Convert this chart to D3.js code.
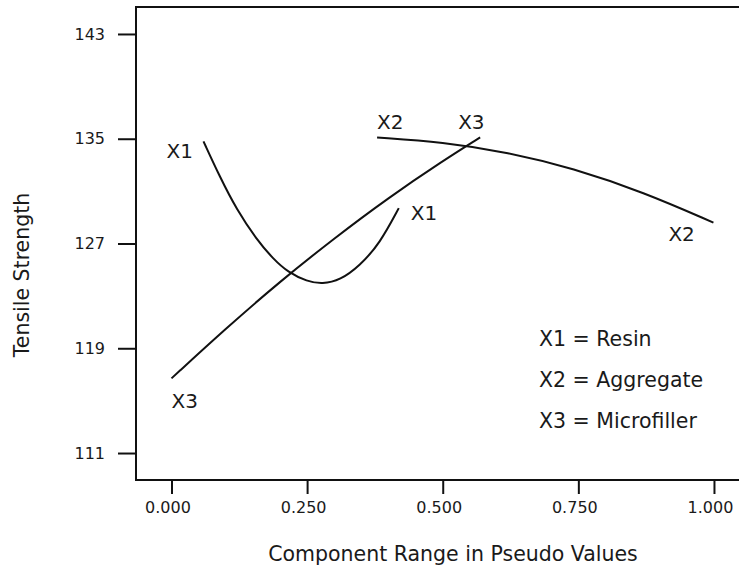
<!DOCTYPE html>
<html>
<head>
<meta charset="utf-8">
<script src="https://cdn.jsdelivr.net/npm/d3@7"></script>
<style>
  body { margin: 0; background: #fff; }
  text { font-family: "DejaVu Sans", Verdana, sans-serif; fill: #1a1a1a; }
</style>
</head>
<body>
<svg class="chart"></svg>
<script>
var width = 739,
    height = 588;

// values
var xTicks = [0, 0.25, 0.5, 0.75, 1.0];
var yTicks = [111, 119, 127, 135, 143];

var x1Resin = [
  [0.059, 134.8], [0.089, 132.1], [0.120, 129.6], [0.157, 127.3], [0.188, 125.8],
  [0.215, 124.8], [0.250, 124.1], [0.278, 123.9], [0.311, 124.2], [0.347, 125.3],
  [0.384, 127.0], [0.419, 129.7]
];
var x2Aggregate = [
  [0.379, 135.1], [0.500, 134.75], [0.620, 133.97], [0.740, 132.75], [0.870, 130.92],
  [0.999, 128.6]
];
var x3Microfiller = [
  [0.000, 116.7], [0.100, 120.5], [0.200, 124.1], [0.300, 127.4], [0.400, 130.5],
  [0.500, 133.3], [0.569, 135.1]
];

var curveLabels = [
  { text: "X1", at: [0.059, 134.8], dx: -37, dy: 17 },
  { text: "X1", at: [0.419, 129.7], dx: 12, dy: 12 },
  { text: "X2", at: [0.379, 135.1], dx: 0, dy: -8 },
  { text: "X3", at: [0.569, 135.1], dx: -22, dy: -8 },
  { text: "X2", at: [0.999, 128.6], dx: -45, dy: 18 },
  { text: "X3", at: [0.000, 116.7], dx: 0, dy: 30 }
];

var legendItems = ["X1 = Resin", "X2 = Aggregate", "X3 = Microfiller"];

var svg = d3.select(".chart")
    .attr("width", width)
    .attr("height", height);

var x = d3.scaleLinear()
    .domain([-0.0654, 1.0572])
    .range([136, 745]);

var y = d3.scaleLinear()
    .domain([108.94, 145.06])
    .range([480, 7]);

var line = d3.line()
    .x((d) => x(d[0]))
    .y((d) => y(d[1]))
    .curve(d3.curveBasis);

// frame (right side falls outside the picture)
svg.append("path")
    .attr("d", "M" + 750 + "," + y.range()[1] + "H" + x.range()[0] + "V" + y.range()[0] + "H" + 750)
    .attr("fill", "none")
    .attr("stroke", "#111")
    .attr("stroke-width", 2);

var xAxis = svg.append("g")
    .attr("transform", "translate(0," + y.range()[0] + ")")
    .call(d3.axisBottom(x).tickValues(xTicks).tickFormat(d3.format(".3f")).tickSize(14).tickPadding(8));

var yAxis = svg.append("g")
    .attr("transform", "translate(" + x.range()[0] + ",0)")
    .call(d3.axisLeft(y).tickValues(yTicks).tickSize(18).tickPadding(13));

[xAxis, yAxis].forEach(function(ax) {
  ax.select(".domain").remove();
  ax.selectAll("line").attr("stroke", "#111").attr("stroke-width", 2);
  ax.selectAll("text")
    .style("font-size", "16px")
    .attr("fill", "#1a1a1a");
});
xAxis.selectAll("text").attr("dx", -4);

// response curves
svg.selectAll(".trace")
  .data([x1Resin, x2Aggregate, x3Microfiller])
  .enter()
    .append("path")
    .attr("class", "trace")
    .attr("d", line)
    .attr("fill", "none")
    .attr("stroke", "#111")
    .attr("stroke-width", 2);

svg.selectAll(".clabel")
  .data(curveLabels)
  .enter()
    .append("text")
    .attr("class", "clabel")
    .attr("x", (d) => x(d.at[0]) + d.dx)
    .attr("y", (d) => y(d.at[1]) + d.dy)
    .style("font-size", "20px")
    .text((d) => d.text);

svg.selectAll(".legend")
  .data(legendItems)
  .enter()
    .append("text")
    .attr("class", "legend")
    .attr("x", 539)
    .attr("y", (d, i) => 346 + i * 41)
    .style("font-size", "20.5px")
    .text((d) => d);

svg.append("text")
    .attr("x", 453)
    .attr("y", 561)
    .attr("text-anchor", "middle")
    .style("font-size", "20.5px")
    .text("Component Range in Pseudo Values");

svg.append("text")
    .attr("transform", "translate(29," + 275 + ") rotate(-90)")
    .attr("text-anchor", "middle")
    .style("font-size", "20.5px")
    .text("Tensile Strength");
</script>
</body>
</html>
